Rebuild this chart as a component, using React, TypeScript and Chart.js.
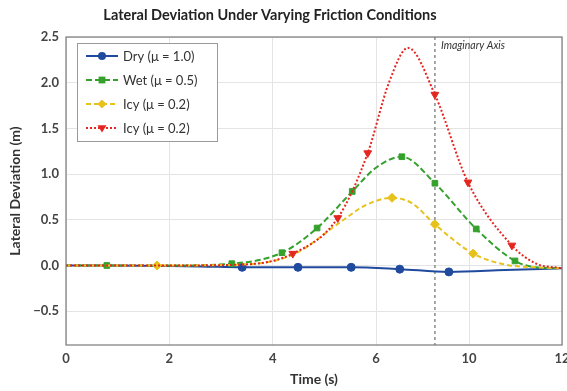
import React, { useEffect, useRef } from "react";
import { Chart, registerables } from "chart.js";

Chart.register(...registerables);

// ---- data ----
const dryX = [0, 0.79, 1.76, 2.6, 3.41, 4.49, 5.52, 6.46, 7.41, 8.5, 9.6];
const dryY = [0, 0, -0.005, -0.01, -0.02, -0.02, -0.02, -0.04, -0.07, -0.05, -0.03];
const dryMarks = [0, 0, 0, 0, 1, 1, 1, 1, 1, 0, 0];

const wetX = [0, 0.79, 2.0, 3.21, 4.18, 4.86, 5.54, 6.0, 6.5, 7.14, 7.94, 8.69, 9.1, 9.6];
const wetY = [0, 0, 0, 0.02, 0.14, 0.41, 0.81, 1.07, 1.19, 0.9, 0.4, 0.05, -0.02, -0.03];
const wetMarks = [0, 1, 0, 1, 1, 1, 1, 0, 1, 1, 1, 1, 0, 0];

const icyX = [0, 1.76, 3.4, 4.4, 5.3, 5.8, 6.31, 6.7, 7.14, 7.88, 8.5, 9.1, 9.6];
const icyY = [0, 0, 0.01, 0.12, 0.47, 0.66, 0.74, 0.68, 0.45, 0.13, 0.01, -0.02, -0.03];
const icyMarks = [0, 1, 0, 0, 0, 0, 1, 0, 1, 1, 0, 0, 0];

const icy2X = [0, 2.0, 3.4, 4.39, 5.26, 5.84, 6.25, 6.62, 7.14, 7.78, 8.63, 9.1, 9.6];
const icy2Y = [0, 0, 0.01, 0.13, 0.52, 1.23, 2.0, 2.38, 1.87, 0.91, 0.22, 0.02, -0.03];
const icy2Marks = [0, 0, 0, 1, 1, 1, 0, 0, 1, 1, 1, 0, 0];

const seriesLabels = ["Dry (\u03bc = 1.0)", "Wet (\u03bc = 0.5)", "Icy (\u03bc = 0.2)", "Icy (\u03bc = 0.2)"];
const seriesColors = ["#1f4a9e", "#35a02c", "#e8c21c", "#e52620"];

const xTickValues = [0, 2, 4, 6, 7.8, 9.6];
const xTickLabels = ["0", "2", "4", "6", "10", "12"];
const yTickValues = [-0.5, 0, 0.5, 1.0, 1.5, 2.0, 2.5];
const imaginaryAxisX = 7.14;
const imaginaryAxisLabel = "Imaginary Axis";
const titleText = "Lateral Deviation Under Varying Friction Conditions";

const FONT = "Lato, 'Open Sans', sans-serif";

const toPoints = (xs: number[], ys: number[]) => xs.map((x, i) => ({ x, y: ys[i] }));

type Style = { dash: number[]; width: number; pointStyle: any; rotation: number; radius: number };
const styles: Style[] = [
  { dash: [], width: 2, pointStyle: "circle", rotation: 0, radius: 4 },
  { dash: [6, 3], width: 2, pointStyle: "rect", rotation: 0, radius: 4 },
  { dash: [5, 3], width: 2, pointStyle: "rectRot", rotation: 0, radius: 4.5 },
  { dash: [2, 2], width: 2, pointStyle: "triangle", rotation: 180, radius: 4.5 },
];

function drawMarker(ctx: CanvasRenderingContext2D, st: Style, x: number, y: number) {
  const r = st.radius;
  ctx.beginPath();
  if (st.pointStyle === "circle") {
    ctx.arc(x, y, r, 0, Math.PI * 2);
  } else if (st.pointStyle === "rect") {
    ctx.rect(x - r * 0.85, y - r * 0.85, r * 1.7, r * 1.7);
  } else if (st.pointStyle === "rectRot") {
    ctx.moveTo(x, y - r);
    ctx.lineTo(x + r, y);
    ctx.lineTo(x, y + r);
    ctx.lineTo(x - r, y);
    ctx.closePath();
  } else {
    ctx.moveTo(x - r, y - r * 0.6);
    ctx.lineTo(x + r, y - r * 0.6);
    ctx.lineTo(x, y + r);
    ctx.closePath();
  }
  ctx.fill();
}

const overlayPlugin = {
  id: "overlay",
  beforeDatasetsDraw(chart: any) {
    const { ctx, chartArea } = chart;
    const px = chart.scales.x.getPixelForValue(imaginaryAxisX);
    ctx.save();
    ctx.strokeStyle = "#8a8a8a";
    ctx.lineWidth = 1.5;
    ctx.setLineDash([3, 3]);
    ctx.beginPath();
    ctx.moveTo(px, chartArea.top);
    ctx.lineTo(px, chartArea.bottom);
    ctx.stroke();
    ctx.setLineDash([]);
    ctx.fillStyle = "#333";
    ctx.font = `italic 10.5px ${FONT}`;
    ctx.textAlign = "left";
    ctx.textBaseline = "middle";
    ctx.fillText(imaginaryAxisLabel, px + 6, chartArea.top + 9);
    ctx.restore();
  },
  afterDraw(chart: any) {
    const { ctx, chartArea } = chart;
    ctx.save();
    ctx.strokeStyle = "#7a7a7a";
    ctx.lineWidth = 1.2;
    ctx.strokeRect(chartArea.left, chartArea.top, chartArea.right - chartArea.left, chartArea.bottom - chartArea.top);

    ctx.fillStyle = "#222";
    ctx.font = `bold 14.5px ${FONT}`;
    ctx.textAlign = "center";
    ctx.textBaseline = "middle";
    ctx.fillText(titleText, chartArea.left + (chartArea.right - chartArea.left) / 2 - 44, 15);

    const lx = chartArea.left + 11;
    const ly = chartArea.top + 6;
    const lw = 140;
    const lh = 98;
    ctx.fillStyle = "rgba(255,255,255,0.95)";
    ctx.fillRect(lx, ly, lw, lh);
    ctx.strokeStyle = "#9a9a9a";
    ctx.lineWidth = 1;
    ctx.strokeRect(lx + 0.5, ly + 0.5, lw, lh);
    chart.data.datasets.forEach((ds: any, i: number) => {
      const st = styles[i];
      const cy = ly + 13 + i * 24;
      ctx.strokeStyle = ds.borderColor;
      ctx.lineWidth = 2;
      ctx.setLineDash(st.dash);
      ctx.beginPath();
      ctx.moveTo(lx + 9, cy);
      ctx.lineTo(lx + 41, cy);
      ctx.stroke();
      ctx.setLineDash([]);
      ctx.fillStyle = ds.borderColor;
      drawMarker(ctx, st, lx + 25, cy);
      ctx.fillStyle = "#333";
      ctx.font = `13px ${FONT}`;
      ctx.textAlign = "left";
      ctx.textBaseline = "middle";
      ctx.fillText(ds.label, lx + 46, cy + 0.5);
    });
    ctx.restore();
  },
};

export default function App() {
  const ref = useRef<HTMLCanvasElement | null>(null);
  useEffect(() => {
    if (!ref.current) return;
    const all = [
      [dryX, dryY, dryMarks],
      [wetX, wetY, wetMarks],
      [icyX, icyY, icyMarks],
      [icy2X, icy2Y, icy2Marks],
    ] as number[][][];
    const datasets = all.map(([xs, ys, marks], i) => ({
      label: seriesLabels[i],
      data: toPoints(xs, ys),
      borderColor: seriesColors[i],
      backgroundColor: seriesColors[i],
      borderWidth: styles[i].width,
      borderDash: styles[i].dash,
      pointStyle: styles[i].pointStyle,
      rotation: styles[i].rotation,
      pointRadius: marks.map((m) => (m ? styles[i].radius : 0)),
      pointBorderWidth: 1,
      pointHoverRadius: 0,
      cubicInterpolationMode: "monotone" as const,
      fill: false,
      order: 4 - i,
    }));
    const chart = new Chart(ref.current, {
      type: "line",
      data: { datasets },
      options: {
        animation: false,
        responsive: true,
        maintainAspectRatio: false,
        layout: { padding: { top: 37, right: 5, left: 0, bottom: 0 } },
        plugins: { legend: { display: false }, tooltip: { enabled: false }, title: { display: false } },
        scales: {
          x: {
            type: "linear",
            min: 0,
            max: 9.6,
            afterBuildTicks: (s: any) => {
              s.ticks = xTickValues.map((v) => ({ value: v }));
            },
            afterFit: (s: any) => {
              s.height = 46;
              s.paddingLeft = 0;
              s.paddingRight = 0;
            },
            ticks: {
              callback: (_v: any, i: number) => xTickLabels[i],
              font: { family: FONT, size: 13, weight: "bold" },
              color: "#444",
              padding: 6,
              maxRotation: 0,
            },
            grid: { color: "#e4e4e4", drawTicks: false },
            border: { display: false },
            title: {
              display: true,
              text: "Time (s)",
              font: { family: FONT, size: 14, weight: "bold" },
              color: "#333",
              padding: { top: 0, bottom: 3 },
            },
          },
          y: {
            type: "linear",
            min: -0.87,
            max: 2.5,
            afterBuildTicks: (s: any) => {
              s.ticks = yTickValues.map((v) => ({ value: v }));
            },
            afterFit: (s: any) => {
              s.width = 66;
              s.paddingTop = 0;
              s.paddingBottom = 0;
            },
            ticks: {
              callback: (v: any) => Number(v).toFixed(1).replace("-", "\u2212"),
              font: { family: FONT, size: 13, weight: "bold" },
              color: "#444",
              padding: 7,
            },
            grid: { color: "#e4e4e4", drawTicks: false },
            border: { display: false },
            title: {
              display: true,
              text: "Lateral Deviation (m)",
              font: { family: FONT, size: 14, weight: "bold" },
              color: "#333",
              padding: { top: 7, bottom: 0 },
            },
          },
        },
      },
      plugins: [overlayPlugin],
    });
    return () => chart.destroy();
  }, []);
  return (
    <div style={{ position: "fixed", left: 0, top: 0, width: 567, height: 391, background: "#fff" }}>
      <canvas ref={ref} />
    </div>
  );
}
